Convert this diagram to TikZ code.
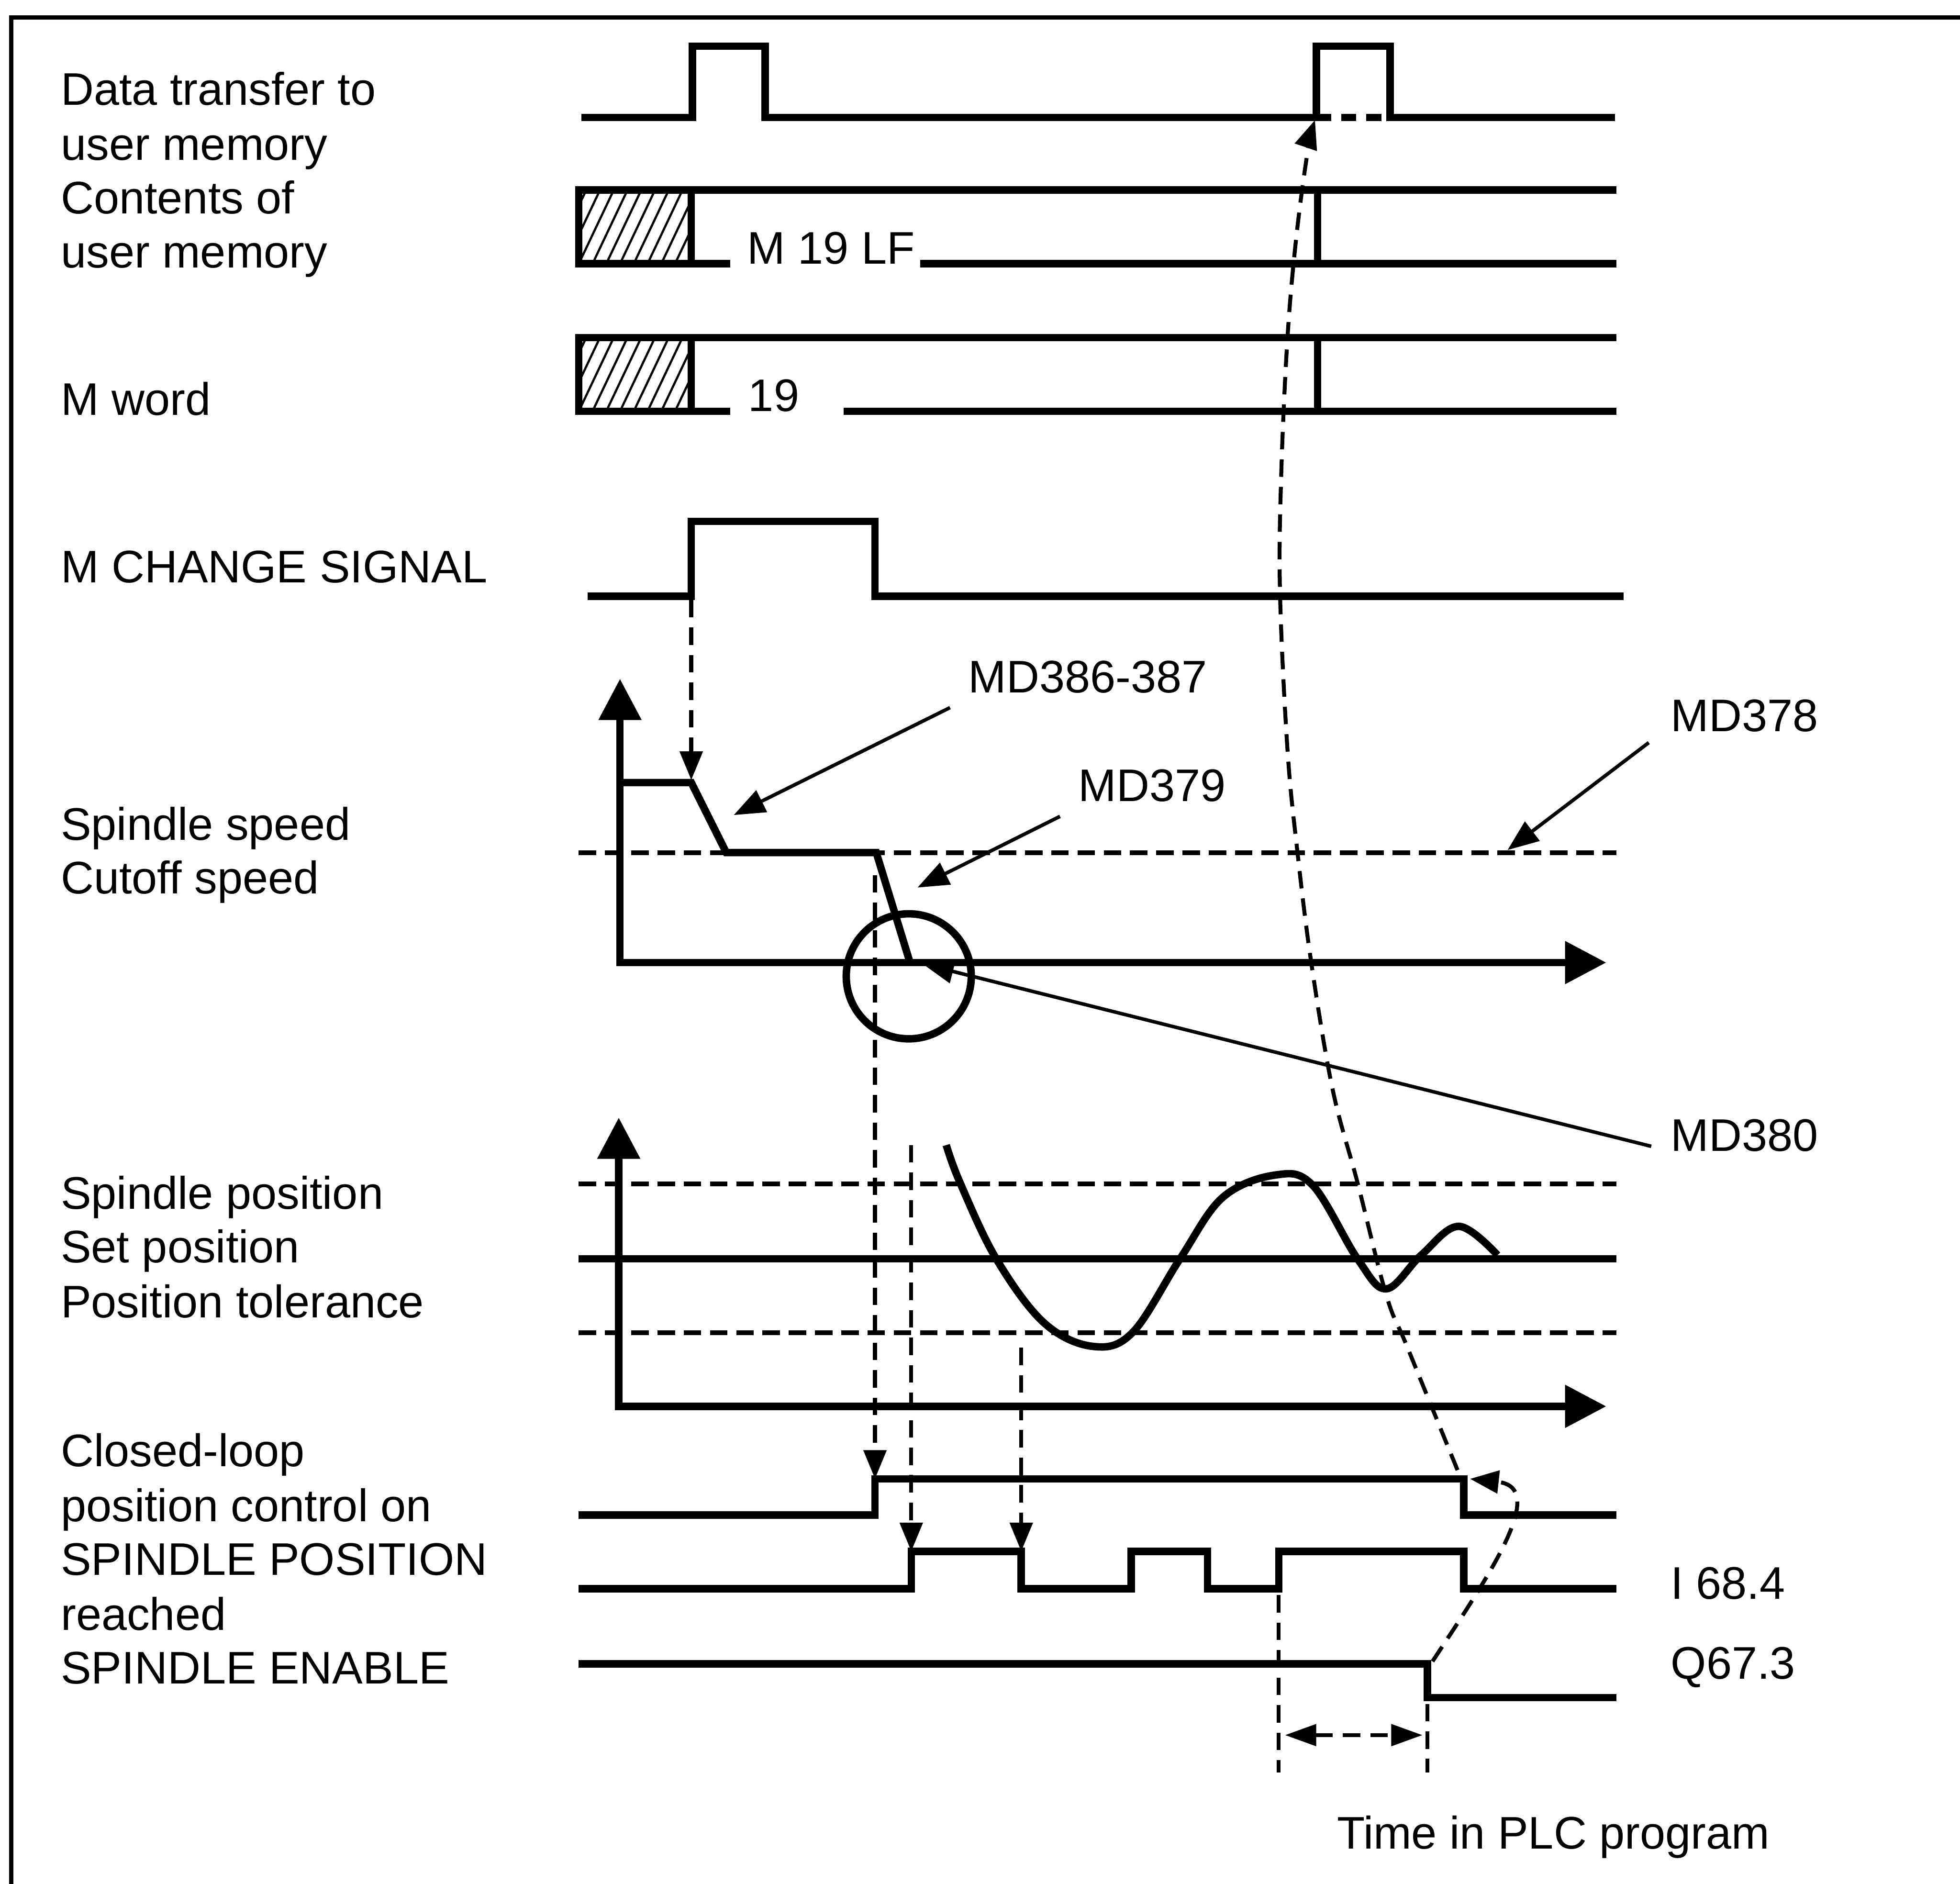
\documentclass[tikz,border=0pt]{standalone}
\usepackage{fontspec}
\setmainfont{Liberation Sans}
\usetikzlibrary{arrows.meta}

\begin{document}
\begin{tikzpicture}[
  x=0.1mm, y=-0.1mm,
  every node/.style={font=\fontsize{10.4pt}{12.4pt}\selectfont, inner sep=0pt},
  lbl/.style={anchor=base west},
  sig/.style={line width=1.7pt},
  refline/.style={line width=1.1pt, dash pattern=on 1.4mm off 0.7mm},
  hatch/.style={line width=0.5pt},
  chartaxis/.style={line width=1.7pt,
                    {Triangle[length=3.3mm,width=3.3mm]}-{Triangle[length=3.3mm,width=3.3mm]}},
  link/.style={line width=0.9pt, dash pattern=on 1.4mm off 0.8mm,
               -{Triangle[length=2.3mm,width=1.8mm]}},
  tmark/.style={line width=0.9pt, dash pattern=on 1.4mm off 0.8mm},
  tspan/.style={line width=0.9pt, dash pattern=on 1.4mm off 0.8mm,
                {Triangle[length=2.5mm,width=1.7mm]}-{Triangle[length=2.5mm,width=1.7mm]}},
  pointer/.style={line width=0.8pt, -{Triangle[length=2.5mm,width=1.9mm]}}
]
  \useasboundingbox (0,0) rectangle (1568,1507);

  % Frame (right and bottom edge lie outside the page)
  \draw[line width=0.9pt] (9,1507) |- (1568,14);

  % Signal names, one node per printed line
  \foreach \yb/\txt [count=\i] in {84/Data transfer to, 128/user memory,
      171/Contents of, 214/user memory, 332/M word, 466/M CHANGE SIGNAL,
      672/Spindle speed, 715/Cutoff speed, 967/Spindle position,
      1010/Set position, 1054/Position tolerance, 1173/Closed-loop,
      1217/position control on, 1260/SPINDLE POSITION, 1304/reached,
      1347/SPINDLE ENABLE}
    \node[lbl] (name\i) at (48,\yb) {\txt};

  % Machine data and I/O labels
  \node[lbl] (md386) at (774,554) {MD386-387};
  \node[lbl] (md379) at (862,641) {MD379};
  \node[lbl] (md378) at (1336,585) {MD378};
  \node[lbl] (md380) at (1336,921) {MD380};
  \node[lbl] (inp)   at (1336,1279) {I 68.4};
  \node[lbl] (outp)  at (1336,1343) {Q67.3};
  \node[lbl] (plc)   at (1069,1479) {Time in PLC program};

  % Data transfer to user memory
  \draw[sig] (465,94) -- (554,94) -- (554,37) -- (612,37) -- (612,94)
             -- (1053,94) -- (1053,37) -- (1112,37) -- (1112,94) -- (1292,94);
  \draw[sig, dash pattern=on 1.2mm off 0.8mm] (1053,94) -- (1112,94);

  % Contents of user memory / M word (hatched = undefined)
  \foreach \yt/\ys in {152/584, 270/584} {
    \begin{scope}
      \clip (463,\yt) rectangle (553,\yt+59);
      \foreach \hx in {430,441,...,560}
        \draw[hatch] (\hx,\yt+59) -- ++(28,-59);
    \end{scope}
    \draw[sig] (463,\yt) rectangle (553,\yt+59);
    \draw[sig] (463,\yt) -- (1293,\yt);
    \draw[sig] (553,\yt+59) -- (\ys,\yt+59);
    \draw[sig] (1054,\yt) -- (1054,\yt+59);
  }
  \node[lbl] (mlf) at (597,211) {M 19 LF};
  \draw[sig] (736,211) -- (1293,211);
  \node[lbl] (mw) at (598,329) {19};
  \draw[sig] (675,329) -- (1293,329);

  % M CHANGE SIGNAL
  \draw[sig] (470,477) -- (553,477) -- (553,417) -- (700,417) -- (700,477) -- (1299,477);

  % Spindle speed chart
  \draw[chartaxis] (496,543) -- (496,770) -- (1285,770);
  \draw[refline] (463,682) -- (1293,682);
  \draw[sig] (496,626) -- (553,626) -- (581,682) -- (701,682) -- (728,770);
  \draw[sig] (727,781) circle[radius=50];

  % Spindle position chart
  \draw[chartaxis] (495,894) -- (495,1125) -- (1285,1125);
  \draw[refline] (463,947) -- (1293,947);
  \draw[sig] (463,1007) -- (1293,1007);
  \draw[refline] (463,1066) -- (1293,1066);
  \draw[sig] plot[smooth, tension=0.6] coordinates {(757,916) (768,946) (797,1007)
    (835,1058) (874,1077) (906,1066) (944,1007) (978,958) (1020,940) (1050,948)
    (1086,1007) (1109,1031) (1137,1004) (1167,981) (1198,1004)};

  % Closed-loop position control / position reached / spindle enable
  \draw[sig] (463,1212) -- (700,1212) -- (700,1183) -- (1171,1183) -- (1171,1212) -- (1293,1212);
  \draw[sig] (463,1271) -- (729,1271) -- (729,1241) -- (817,1241) -- (817,1271)
             -- (905,1271) -- (905,1241) -- (966,1241) -- (966,1271) -- (1023,1271)
             -- (1023,1241) -- (1171,1241) -- (1171,1271) -- (1293,1271);
  \draw[sig] (463,1331) -- (1142,1331) -- (1142,1358) -- (1293,1358);

  % Named points for the dashed links
  \coordinate (mc-rise)  at (553,480);
  \coordinate (ramp)     at (553,624);
  \coordinate (cut)      at (700,700);
  \coordinate (cl-rise)  at (700,1183);
  \coordinate (tol-in)   at (729,916);
  \coordinate (pr-rise)  at (729,1241);
  \coordinate (tol-low)  at (817,1078);
  \coordinate (pr-fall)  at (817,1241);
  \coordinate (cl-fall)  at (1176,1183);
  \coordinate (en-fall)  at (1146,1329);
  \coordinate (t0-top)   at (1023,1276);
  \coordinate (t0-bot)   at (1023,1418);
  \coordinate (t1-top)   at (1142,1363);
  \coordinate (t1-bot)   at (1142,1418);
  \coordinate (t0-mid)   at (1028,1388);
  \coordinate (t1-mid)   at (1138,1388);

  % Dashed links
  \draw[link] (mc-rise) -- (ramp);
  \draw[link] (cut) -- (cl-rise);
  \draw[link] (tol-in) -- (pr-rise);
  \draw[link] (tol-low) -- (pr-fall);
  \draw[link] (en-fall) .. controls (1190,1262) and (1240,1190) .. (cl-fall);
  \draw[link] plot[smooth, tension=0.6] coordinates {(1166,1176) (1126,1078)
    (1109,1036) (1086,946) (1066,871) (1049,770) (1038,682) (1030,600) (1024,474)
    (1025,379) (1030,270) (1037,190) (1046,122) (1052,96)};
  \draw[tmark] (t0-top) -- (t0-bot);
  \draw[tmark] (t1-top) -- (t1-bot);
  \draw[tspan] (t0-mid) -- (t1-mid);

  % Pointers from machine data labels
  \draw[pointer] (md386.south west) ++(-14,11) -- (587,652);
  \draw[pointer] (md379.south west) ++(-14,11) -- (734,710);
  \draw[pointer] (md378.south west) ++(-17,8) -- (1206,680);
  \draw[pointer] (md380.base west) ++(-15,-4) -- (738,771);
\end{tikzpicture}
\end{document}
